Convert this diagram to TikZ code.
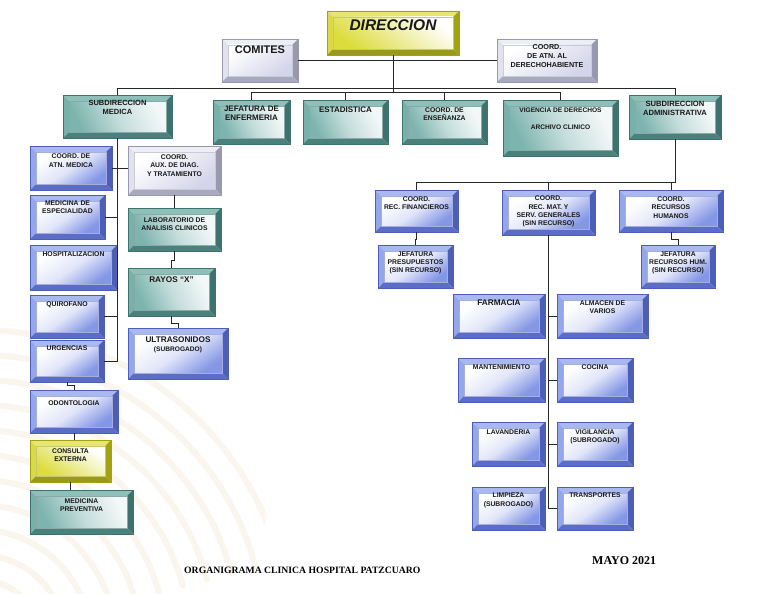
\documentclass[tikz,border=0pt]{standalone}
\usepackage{fontspec}
\setmainfont{Liberation Sans}
\newfontfamily\serifft{Liberation Serif}
\usetikzlibrary{calc}

\definecolor{tT}{HTML}{8EC0BA}\definecolor{tL}{HTML}{78B0AA}\definecolor{tR}{HTML}{3E726D}\definecolor{tB}{HTML}{4A817C}\definecolor{tI}{HTML}{7DB4AF}
\definecolor{bT}{HTML}{AAB8F0}\definecolor{bL}{HTML}{94A6EC}\definecolor{bR}{HTML}{4C5EB8}\definecolor{bB}{HTML}{5B6DC6}\definecolor{bI}{HTML}{8496E6}
\definecolor{lT}{HTML}{EEEEF7}\definecolor{lL}{HTML}{E2E2EF}\definecolor{lR}{HTML}{9898AE}\definecolor{lB}{HTML}{A8A8BE}\definecolor{lI}{HTML}{D4D4EA}
\definecolor{yT}{HTML}{E6E670}\definecolor{yL}{HTML}{DADA48}\definecolor{yR}{HTML}{A3A312}\definecolor{yB}{HTML}{9A9A1A}\definecolor{yI}{HTML}{DCDC3C}
\definecolor{wmark}{HTML}{FAF5ED}

\def\bw{6pt}
\newcommand\bevelpp[6]{%
  \coordinate (ppsw) at (path picture bounding box.south west);
  \coordinate (ppne) at (path picture bounding box.north east);
  \coordinate (ppnw) at (path picture bounding box.north west);
  \coordinate (ppse) at (path picture bounding box.south east);
  \fill[#1] (ppnw) -- (ppne) -- ([shift={(-\bw,-\bw)}]ppne) -- ([shift={(\bw,-\bw)}]ppnw) -- cycle;
  \fill[#2] (ppnw) -- (ppsw) -- ([shift={(\bw,\bw)}]ppsw) -- ([shift={(\bw,-\bw)}]ppnw) -- cycle;
  \fill[#3] (ppne) -- (ppse) -- ([shift={(-\bw,\bw)}]ppse) -- ([shift={(-\bw,-\bw)}]ppne) -- cycle;
  \fill[#4] (ppsw) -- (ppse) -- ([shift={(-\bw,\bw)}]ppse) -- ([shift={(\bw,\bw)}]ppsw) -- cycle;
  \shade[#5] ([shift={(\bw,\bw)}]ppsw) rectangle ([shift={(-\bw,-\bw)}]ppne);
  \draw[#6, line width=0.4pt] ([shift={(\bw,\bw)}]ppsw) rectangle ([shift={(-\bw,-\bw)}]ppne);
}
\newcommand\fz[2]{\fontsize{#1}{#2}\selectfont}

\tikzset{
  box/.style={rectangle, inner sep=0pt, outer sep=0pt},
  tealbox/.style={box, draw=tR, line width=0.4pt, path picture={\bevelpp{tT}{tL}{tR}{tB}{left color=tI, right color=white!90!tI, middle color=white!55!tI, shading angle=115}{tR!60}}},
  bluebox/.style={box, draw=bR, line width=0.4pt, path picture={\bevelpp{bT}{bL}{bR}{bB}{top color=white, bottom color=bI, middle color=white!75!bI, shading angle=35}{bR!50}}},
  lavbox/.style={box, draw=lR, line width=0.4pt, path picture={\bevelpp{lT}{lL}{lR}{lB}{top color=white, bottom color=lI, shading angle=35}{lR!50}}},
  yelbox/.style={box, draw=yR, line width=0.4pt, path picture={\bevelpp{yT}{yL}{yR}{yB}{top color=white, bottom color=yI, shading angle=-35}{yR!60}}},
  lbl/.style={anchor=north, align=center, inner sep=0pt, text=black!90, font=\bfseries\fz{6.8}{8.5}},
  conn/.style={draw=black!85, line width=1pt},
  wm/.style={draw=wmark, line width=6pt, line cap=round},
}

% [#1 label options], #2 style, #3 name, #4 x1, #5 y1, #6 x2, #7 y2, #8 text top, #9 text
\newcommand\obox[9][]{%
  \node[#2, minimum width={(#6-#4)*1pt}, minimum height={(#7-#5)*1pt}] (#3) at ({(#4+#6)/2},{(#5+#7)/2}) {};
  \node[lbl, #1] (#3-t) at ({(#4+#6)/2},#8) {#9};
}

\begin{document}
\begin{tikzpicture}[x=1pt, y=-1pt]
\useasboundingbox (0,0) rectangle (768,594);
\fill[white] (0,0) rectangle (768,594);

% faint watermark
\begin{scope}
\clip (0,235) rectangle (265,594);
\foreach \r in {60,85,...,310}{
  \draw[wm] (-20,640) ++(95:\r pt) arc[start angle=95, end angle=15, radius=\r pt];
}
\end{scope}

% top level
\obox[font=\bfseries\itshape\fz{15.5}{17}]{yelbox}{dir}{327}{11}{459}{55}{19.5}{DIRECCION}
\obox[font=\bfseries\fz{11}{13}]{lavbox}{com}{222}{39}{298}{82}{46}{COMITES}
\obox[font=\bfseries\fz{7.2}{9}]{lavbox}{der}{497}{39}{597}{82}{44.5}{COORD.\\DE ATN. AL\\DERECHOHABIENTE}

% second row
\obox[font=\bfseries\fz{7.5}{9.5}]{tealbox}{smed}{63}{95}{172}{138}{100}{SUBDIRECCION\\MEDICA}
\obox[font=\bfseries\fz{8}{9.5}]{tealbox}{jef}{213}{100}{290}{144}{105.5}{JEFATURA DE\\ENFERMERIA}
\obox[font=\bfseries\fz{8}{9.5}]{tealbox}{est}{303}{100}{388}{144}{107}{ESTADISTICA}
\obox{tealbox}{ens}{402}{100}{487}{144}{107.5}{COORD. DE\\ENSEÑANZA}
\obox[font=\bfseries\fz{6.6}{8}]{tealbox}{vig}{503}{100}{618}{156}{108}{VIGENCIA DE DERECHOS\\[8.5pt]ARCHIVO CLINICO}
\obox[font=\bfseries\fz{7.6}{9.5}]{tealbox}{sadm}{629}{95}{721}{139}{100.5}{SUBDIRECCION\\ADMINISTRATIVA}

% left column
\obox{bluebox}{catm}{30}{146}{112}{190}{154}{COORD. DE\\ATN. MEDICA}
\obox{lavbox}{caux}{128}{146}{221}{195}{154.5}{COORD.\\AUX. DE DIAG.\\Y TRATAMIENTO}
\obox{bluebox}{mesp}{30}{195}{105}{239}{200.5}{MEDICINA DE\\ESPECIALIDAD}
\obox{bluebox}{hosp}{30}{245}{117}{290}{251.5}{HOSPITALIZACION}
\obox{bluebox}{quir}{30}{295}{104}{338}{301.5}{QUIROFANO}
\obox{bluebox}{urg}{30}{340}{104}{382}{345.5}{URGENCIAS}
\obox{bluebox}{odon}{30}{390}{118}{433}{400.5}{ODONTOLOGIA}
\obox{yelbox}{cons}{30}{440}{111}{482}{448.5}{CONSULTA\\EXTERNA}
\obox{tealbox}{mprev}{30}{490}{133}{534}{498.5}{MEDICINA\\PREVENTIVA}

% middle column
\obox{tealbox}{lab}{128}{208}{221}{251}{217.5}{LABORATORIO DE\\ANALISIS CLINICOS}
\obox[font=\bfseries\fz{8.2}{10}]{tealbox}{ray}{128}{268}{215}{316}{277}{RAYOS “X”}
\obox[font=\bfseries\fz{8.2}{10}]{bluebox}{ult}{128}{328}{228}{379}{337}{ULTRASONIDOS\\[-1pt]{\fz{6.6}{8}(SUBROGADO)}}

% administrative branch
\obox{bluebox}{cfin}{375}{190}{458}{232}{196.5}{COORD.\\REC. FINANCIEROS}
\obox[font=\bfseries\fz{6.8}{8.1}]{bluebox}{cmat}{502}{190}{595}{235}{196}{COORD.\\REC. MAT. Y\\SERV. GENERALES\\(SIN RECURSO)}
\obox{bluebox}{crh}{619}{190}{723}{232}{196.5}{COORD.\\RECURSOS\\HUMANOS}
\obox[font=\bfseries\fz{6.8}{8.1}]{bluebox}{jpres}{378}{245}{453}{288}{251.5}{JEFATURA\\PRESUPUESTOS\\(SIN RECURSO)}
\obox[font=\bfseries\fz{6.8}{8.1}]{bluebox}{jrh}{641}{245}{715}{288}{251.5}{JEFATURA\\RECURSOS HUM.\\(SIN RECURSO)}

% services grid
\obox[font=\bfseries\fz{8.2}{10}]{bluebox}{farm}{453}{294}{545}{338}{299.5}{FARMACIA}
\obox{bluebox}{alm}{557}{294}{648}{338}{300.5}{ALMACEN DE\\VARIOS}
\obox{bluebox}{mant}{458}{358}{545}{402}{364.5}{MANTENIMIENTO}
\obox{bluebox}{coc}{557}{358}{633}{402}{364.5}{COCINA}
\obox{bluebox}{lav}{472}{422}{545}{466}{429.5}{LAVANDERIA}
\obox{bluebox}{vigi}{557}{422}{633}{466}{429.5}{VIGILANCIA\\(SUBROGADO)}
\obox{bluebox}{limp}{472}{487}{545}{530}{493}{LIMPIEZA\\(SUBROGADO)}
\obox{bluebox}{trans}{557}{487}{633}{530}{493}{TRANSPORTES}

% connectors: top
\draw[conn] (com.east) -- (der.west);
\draw[conn] (smed.north) -- ++(0,-7) coordinate (bus1) -| (sadm.north);
\draw[conn] (jef.north) -- ++(0,-8) coordinate (bus2) -| (vig.north);
\draw[conn] (est.north) -- (est.north |- bus2);
\draw[conn] (ens.north) -- (ens.north |- bus2);
\draw[conn] (dir.south) -- (dir.south |- bus2);

% connectors: medical
\draw[conn] (smed.south) -- (smed.south |- urg.east) -- (urg.east);
\draw[conn] (catm.east) -- (catm.east -| caux.west);
\draw[conn] (mesp.east) -- (mesp.east -| smed.south);
\draw[conn] (quir.east) -- (quir.east -| smed.south);
\draw[conn] (urg.south) -- ++(0,3.5) -| (odon.north);
\draw[conn] (odon.south) -- (odon.south |- cons.north);
\draw[conn] (cons.south) -- (cons.south |- mprev.north);
\draw[conn] (caux.south) -- (caux.south |- lab.north);
\draw[conn] (lab.south) -- ++(0,9) -| (ray.north);
\draw[conn] (ray.south) -- ++(0,7) -| (ult.north);

% connectors: administrative
\draw[conn] (cfin.north) -- ++(0,-8) coordinate (bus3) -| (sadm.south);
\draw[conn] (cmat.north) -- (cmat.north |- bus3);
\draw[conn] (crh.north) -- (crh.north |- bus3);
\draw[conn] (cfin.south) -- ++(0,7) -| (jpres.north);
\draw[conn] (crh.south) -- ++(0,7) -| (jrh.north);
\draw[conn] (cmat.south) -- (cmat.south |- trans.west);
\draw[conn] (alm.west) -- (alm.west -| cmat.south);
\draw[conn] (coc.west) -- (coc.west -| cmat.south);
\draw[conn] (vigi.west) -- (vigi.west -| cmat.south);
\draw[conn] (trans.west) -- (trans.west -| cmat.south);

% footer
\node[anchor=west, inner sep=0pt, font=\serifft\bfseries\fz{9.7}{11}] (foot) at (184,570) {ORGANIGRAMA CLINICA HOSPITAL PATZCUARO};
\node[anchor=west, inner sep=0pt, font=\serifft\bfseries\fz{12}{14}] (mayo) at (592,561) {MAYO 2021};
\end{tikzpicture}
\end{document}
